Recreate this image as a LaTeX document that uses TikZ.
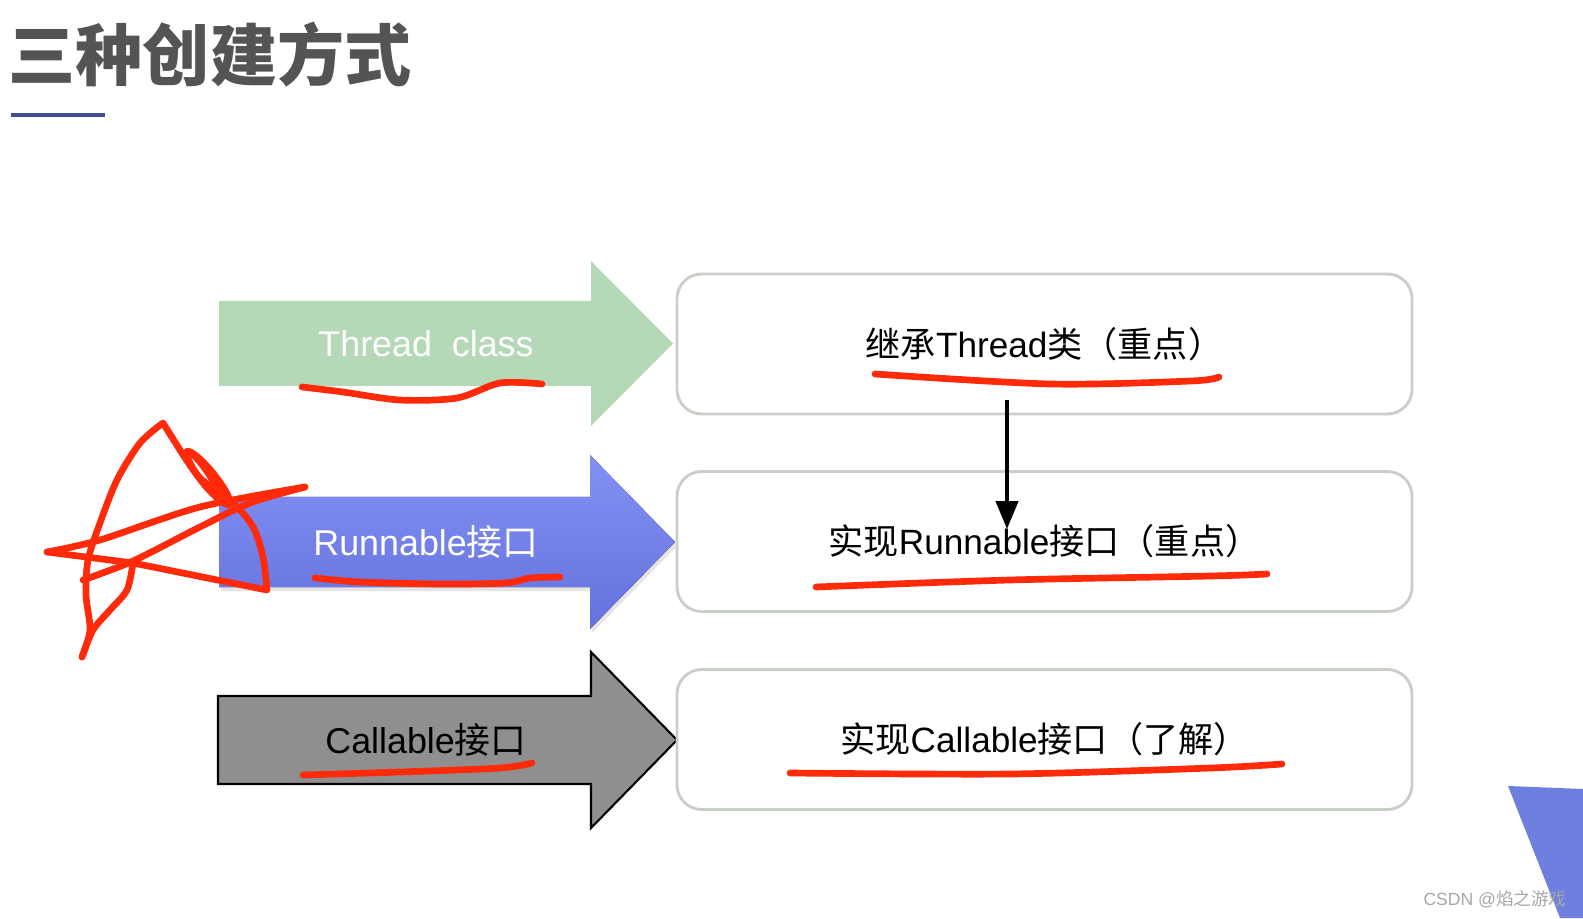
\documentclass[tikz,border=0pt]{standalone}
\usepackage{fontspec}
\setmainfont{Liberation Sans}
\newfontfamily\cjk{Noto Sans CJK SC}
\newcommand{\zh}[1]{{\cjk #1}}
\usepackage{xcolor}
\usepackage{tikz}
\usetikzlibrary{arrows.meta, calc, shadows}

\definecolor{titlegray}{HTML}{545454}
\definecolor{titleline}{HTML}{3F4C8F}
\definecolor{arrgreen}{HTML}{B5D9B7}
\definecolor{arrbluetop}{HTML}{8391F3}
\definecolor{arrbluebot}{HTML}{6571DD}
\definecolor{arrgray}{HTML}{8F8F8F}
\definecolor{boxline}{HTML}{C8CFC6}
\definecolor{scribred}{HTML}{FF2A0A}
\definecolor{cornerblue}{HTML}{6E7FE0}

\begin{document}
\begin{tikzpicture}[
    wayBox/.style={rectangle, draw=boxline, line width=0.8pt, rounded corners=7pt, minimum width=7.35cm, minimum height=1.40cm, font=\fontsize{10}{12}\selectfont},
    arrLabel/.style={inner sep=0pt, font=\fontsize{10.2}{12}\selectfont},
    scribble/.style={draw=scribred, line width=1.9pt, line cap=round, line join=round},
    arr/.style={-{Triangle[length=2.8mm, width=2.2mm]}, line width=1.2pt}
]
    % Seite und Rahmen
    \fill[white] (0,0) rectangle (15.83,9.18);
    \useasboundingbox (0,0) rectangle (15.83,9.18);

    % Titel
    \node[anchor=west, inner sep=0pt, text=titlegray, font=\cjk\bfseries\fontsize{19.1}{22}\selectfont] (title) at (0.08,8.63) {三种创建方式};
    \draw[titleline, line width=0.9pt] (0.11,8.03) -- (1.05,8.03);

    % Blockpfeile links
    \fill[arrgreen] (2.19,6.17) -- (5.91,6.17) -- (5.91,6.57) -- (6.73,5.745) -- (5.91,4.92) -- (5.91,5.32) -- (2.19,5.32) -- cycle;
    \fill[top color=arrbluetop, bottom color=arrbluebot, drop shadow={opacity=0.2, shadow xshift=0.2mm, shadow yshift=-0.4mm}] (2.19,4.21) -- (5.90,4.21) -- (5.90,4.63) -- (6.75,3.76) -- (5.90,2.89) -- (5.90,3.31) -- (2.19,3.31) -- cycle;
    \draw[fill=arrgray, draw=black, line width=0.6pt] (2.18,2.22) -- (5.91,2.22) -- (5.91,2.66) -- (6.77,1.78) -- (5.91,0.90) -- (5.91,1.34) -- (2.18,1.34) -- cycle;

    \node[arrLabel, text=white] (threadLbl) at (4.26,5.745) {Thread\ \ class};
    \node[arrLabel, text=white] (runnableLbl) at (4.26,3.76) {Runnable\zh{接口}};
    \node[arrLabel, text=black] (callableLbl) at (4.26,1.78) {Callable\zh{接口}};

    % Kaesten rechts
    \node[wayBox] (extThread) at (10.445,5.74) {\zh{继承}Thread\zh{类（重点）}};
    \node[wayBox] (implRunnable) at (10.445,3.765) {\zh{实现}Runnable\zh{接口（重点）}};
    \node[wayBox] (implCallable) at (10.445,1.785) {\zh{实现}Callable\zh{接口（了解）}};

    \draw[arr] ($(extThread.south)+(-0.375,0.15)$) -- ($(implRunnable.north)+(-0.375,-0.59)$);

    % rote Anstreichungen
    \draw[scribble] plot[smooth] coordinates {(3.02,5.31) (3.43,5.26) (4.00,5.18) (4.57,5.20) (5.00,5.35) (5.42,5.34)};
    \draw[scribble] plot[smooth] coordinates {(3.15,3.40) (3.60,3.36) (4.40,3.34) (5.05,3.35) (5.30,3.40) (5.60,3.41)};
    \draw[scribble] plot[smooth] coordinates {(3.03,1.43) (4.00,1.46) (5.00,1.50) (5.32,1.55)};
    \draw[scribble] plot[smooth] coordinates {(8.75,5.44) (10.50,5.34) (11.91,5.37) (12.19,5.41)};
    \draw[scribble] plot[smooth] coordinates {(8.16,3.31) (10.10,3.38) (12.11,3.42) (12.67,3.44)};
    \draw[scribble] plot[smooth] coordinates {(7.90,1.45) (10.10,1.44) (12.11,1.50) (12.82,1.54)};

    % Kritzelei links
    \draw[scribble] plot[smooth] coordinates {(0.82,2.61) (0.90,2.88) (0.86,3.23) (0.88,3.58) (1.00,3.95) (1.17,4.38) (1.40,4.75) (1.63,4.95)} -- (1.80,4.68);
    \draw[scribble] plot[smooth] coordinates {(1.80,4.68) (2.00,4.40) (2.33,4.15) (2.53,3.91) (2.63,3.61) (2.67,3.28)} -- (1.33,3.55) -- (0.47,3.66);
    \draw[scribble] plot[smooth] coordinates {(0.47,3.66) (1.00,3.78) (2.00,4.11) (3.05,4.31)};
    \draw[scribble] plot[smooth] coordinates {(0.83,3.38) (1.33,3.57) (2.00,3.91) (2.50,4.15) (3.05,4.31)};
    \draw[scribble] plot[smooth] coordinates {(1.33,3.55) (1.27,3.28) (1.10,3.08) (0.93,2.88) (0.82,2.61)};
    \draw[scribble, rotate around={-51:(2.08,4.40)}] (2.08,4.40) ellipse (0.34 and 0.07);
    \draw[scribble, rotate around={-55:(2.02,4.45)}] (2.02,4.45) ellipse (0.26 and 0.05);

    % Ecke unten rechts und Wasserzeichen
    \fill[cornerblue] (15.08,1.32) -- (15.83,1.29) -- (15.83,0) -- (15.60,0) -- cycle;
    \node[anchor=east, inner sep=0pt, text=gray!70, font=\fontsize{5.0}{6}\selectfont] (mark) at (15.67,0.19) {CSDN @\zh{焰之游戏}};
\end{tikzpicture}
\end{document}
